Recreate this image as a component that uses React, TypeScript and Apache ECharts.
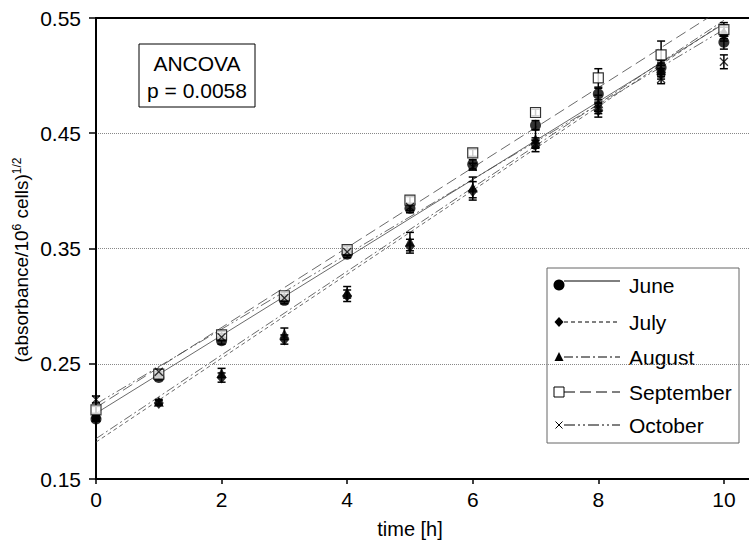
import React, { useEffect, useRef } from "react";
import * as echarts from "echarts";

const times = [0, 1, 2, 3, 4, 5, 6, 7, 8, 9, 10];
const months = ["June", "July", "August", "September", "October"];

const juneMean = [0.202, 0.238, 0.270, 0.305, 0.345, 0.385, 0.423, 0.457, 0.484, 0.507, 0.529];
const julyMean = [0.203, 0.216, 0.238, 0.271, 0.309, 0.352, 0.400, 0.440, 0.470, 0.503, 0.536];
const augustMean = [0.204, 0.217, 0.242, 0.276, 0.312, 0.356, 0.403, 0.445, 0.476, 0.505, 0.538];
const septemberMean = [0.210, 0.241, 0.275, 0.309, 0.349, 0.392, 0.433, 0.468, 0.498, 0.518, 0.540];
const octoberMean = [0.219, 0.243, 0.273, 0.307, 0.347, 0.386, 0.421, 0.441, 0.472, 0.497, 0.512];

const juneErr = [0.002, 0.002, 0.003, 0.003, 0.003, 0.004, 0.004, 0.004, 0.005, 0.006, 0.006];
const julyErr = [0.002, 0.002, 0.004, 0.004, 0.005, 0.006, 0.008, 0.006, 0.006, 0.006, 0.006];
const augustErr = [0.002, 0.002, 0.004, 0.005, 0.005, 0.008, 0.009, 0.008, 0.007, 0.006, 0.006];
const septemberErr = [0.003, 0.002, 0.003, 0.003, 0.003, 0.003, 0.003, 0.003, 0.008, 0.012, 0.006];
const octoberErr = [0.003, 0.002, 0.003, 0.003, 0.003, 0.003, 0.003, 0.003, 0.005, 0.004, 0.006];

// regression line values at t = 0 and t = 10
const fitStart = [0.207, 0.182, 0.185, 0.212, 0.215];
const fitEnd = [0.545, 0.546, 0.548, 0.559, 0.540];
const fitTimes = [0, 10];

const xTicks = [0, 2, 4, 6, 8, 10];
const yTicks = [0.15, 0.25, 0.35, 0.45, 0.55];

const ancovaLines = ["ANCOVA", "p = 0.0058"];

const FONT = "'Liberation Sans', Arial, sans-serif";

const means = [juneMean, julyMean, augustMean, septemberMean, octoberMean];
const errs = [juneErr, julyErr, augustErr, septemberErr, octoberErr];

const symbols: any[] = ["circle", "diamond", "triangle", "rect", "path://M0,0L10,10M10,0L0,10"];
const symbolSizes: any[] = [11, [10, 12], 10, 10, 8];
const dashes: any[] = ["solid", [4, 3], [9, 3, 2, 3], [11, 5], [11, 3, 2, 3, 2, 3]];

export default function App() {
  const ref = useRef<HTMLDivElement>(null);
  useEffect(() => {
    document.body.style.margin = "0";
    const chart = echarts.init(ref.current!, null, { renderer: "svg" });

    const series: any[] = [];
    months.forEach((m, i) => {
      series.push({
        type: "line",
        name: m + " fit",
        data: fitTimes.map((t, k) => [t, k === 0 ? fitStart[i] : fitEnd[i]]),
        showSymbol: false,
        symbol: "none",
        clip: true,
        lineStyle: { color: "#444", width: 0.8, type: dashes[i] },
        z: 1,
        silent: true,
      });
    });
    months.forEach((m, i) => {
      series.push({
        type: "custom",
        name: m + " err",
        data: times.map((t, k) => [t, means[i][k], errs[i][k]]),
        encode: { x: 0, y: 1 },
        z: 2,
        renderItem: (_p: any, api: any) => {
          const x = api.value(0);
          const y = api.value(1);
          const e = api.value(2);
          const top = api.coord([x, y + e]);
          const bot = api.coord([x, y - e]);
          const w = 4;
          const st = { stroke: "#000", lineWidth: 1.5 };
          return {
            type: "group",
            children: [
              { type: "line", shape: { x1: top[0], y1: top[1], x2: bot[0], y2: bot[1] }, style: st },
              { type: "line", shape: { x1: top[0] - w, y1: top[1], x2: top[0] + w, y2: top[1] }, style: st },
              { type: "line", shape: { x1: bot[0] - w, y1: bot[1], x2: bot[0] + w, y2: bot[1] }, style: st },
            ],
          };
        },
      });
      const isSq = i === 3;
      const isX = i === 4;
      series.push({
        type: "scatter",
        name: m,
        data: times.map((t, k) => [t, means[i][k]]),
        symbol: symbols[i],
        symbolSize: symbolSizes[i],
        z: 3,
        itemStyle: isSq
          ? { color: "#fff", borderColor: "#000", borderWidth: 1.2 }
          : isX
          ? { color: "rgba(0,0,0,0)", borderColor: "#000", borderWidth: 1.3 }
          : { color: "#000" },
      });
    });

    // legend graphics
    const legendY = [285, 322, 357, 392, 425];
    const legendChildren: any[] = [
      { type: "rect", shape: { x: 547, y: 268, width: 192, height: 175 }, style: { fill: "none", stroke: "#666", lineWidth: 1 } },
    ];
    const mx = 559;
    months.forEach((m, i) => {
      const y = legendY[i];
      const ly = y - (i === 0 ? 4 : 0);
      legendChildren.push({
        type: "line",
        shape: { x1: 564, y1: ly, x2: 620, y2: ly },
        style: { stroke: "#000", lineWidth: 1, lineDash: dashes[i] === "solid" ? null : dashes[i] },
      });
      if (i === 0) legendChildren.push({ type: "circle", shape: { cx: mx, cy: y, r: 5.5 }, style: { fill: "#000" } });
      if (i === 1)
        legendChildren.push({ type: "polygon", shape: { points: [[mx, y - 5], [mx + 4.5, y], [mx, y + 5], [mx - 4.5, y]] }, style: { fill: "#000" } });
      if (i === 2)
        legendChildren.push({ type: "polygon", shape: { points: [[mx, y - 5], [mx + 4.5, y + 4], [mx - 4.5, y + 4]] }, style: { fill: "#000" } });
      if (i === 3)
        legendChildren.push({ type: "rect", shape: { x: mx - 5, y: y - 5, width: 10, height: 10 }, style: { fill: "#fff", stroke: "#000", lineWidth: 1 } });
      if (i === 4) {
        legendChildren.push({ type: "line", shape: { x1: mx - 3.5, y1: y - 3.5, x2: mx + 3.5, y2: y + 3.5 }, style: { stroke: "#000", lineWidth: 1 } });
        legendChildren.push({ type: "line", shape: { x1: mx - 3.5, y1: y + 3.5, x2: mx + 3.5, y2: y - 3.5 }, style: { stroke: "#000", lineWidth: 1 } });
      }
      legendChildren.push({
        type: "text",
        x: 629,
        y: y,
        style: { text: m, font: `21px ${FONT}`, fill: "#000", verticalAlign: "middle", align: "left" },
      });
    });

    const option: any = {
      animation: false,
      grid: { left: 96, right: 0, top: 18, bottom: 66, containLabel: false },
      xAxis: [
        {
          type: "value",
          position: "bottom",
          min: 0,
          max: 10.4,
          interval: 2,
          axisLine: { show: true, lineStyle: { color: "#000", width: 2 } },
          axisTick: { show: true, length: 5, customValues: xTicks, lineStyle: { color: "#000", width: 1.5 } },
          axisLabel: { customValues: xTicks, fontSize: 21, fontFamily: FONT, color: "#000", margin: 10 },
          splitLine: { show: false },
        },
        {
          type: "value",
          position: "top",
          min: 0,
          max: 10.4,
          axisLine: { show: true, lineStyle: { color: "#000", width: 2 } },
          axisTick: { show: false },
          axisLabel: { show: false },
          splitLine: { show: false },
        },
      ],
      yAxis: {
        type: "value",
        min: 0.15,
        max: 0.55,
        interval: 0.1,
        axisLine: { show: true, lineStyle: { color: "#000", width: 2 } },
        axisTick: { show: true, length: 7, customValues: yTicks, lineStyle: { color: "#000", width: 1.5 } },
        axisLabel: {
          customValues: yTicks,
          fontSize: 21,
          fontFamily: FONT,
          color: "#000",
          margin: 15,
          formatter: (v: number) => v.toFixed(2),
        },
        splitLine: { show: true, lineStyle: { color: "#888", width: 1, type: [1, 1] } },
      },
      graphic: [
        {
          type: "group",
          children: [
            { type: "rect", shape: { x: 139, y: 44, width: 116, height: 63 }, style: { fill: "#fff", stroke: "#000", lineWidth: 1 } },
            { type: "text", x: 197, y: 63, style: { text: ancovaLines[0], font: `21px ${FONT}`, fill: "#000", align: "center", verticalAlign: "middle" } },
            { type: "text", x: 197, y: 90, style: { text: ancovaLines[1], font: `21px ${FONT}`, fill: "#000", align: "center", verticalAlign: "middle" } },
          ],
        },
        { type: "group", children: legendChildren },
        {
          type: "text",
          x: 410,
          y: 529,
          style: { text: "time [h]", font: `20px ${FONT}`, fill: "#000", align: "center", verticalAlign: "middle" },
        },
        {
          type: "text",
          x: 21,
          y: 260,
          rotation: Math.PI / 2,
          style: {
            text: "{b|(absorbance/10}{s|6}{b| cells)}{s|1/2}",
            align: "center",
            verticalAlign: "middle",
            rich: {
              b: { fontSize: 19, fontFamily: FONT, color: "#000", lineHeight: 20, verticalAlign: "bottom" },
              s: { fontSize: 12, fontFamily: FONT, color: "#000", lineHeight: 12, verticalAlign: "top" },
            },
          },
        },
      ],
      series,
    };
    chart.setOption(option);
    return () => chart.dispose();
  }, []);
  return <div ref={ref} style={{ width: 749, height: 545 }} />;
}
